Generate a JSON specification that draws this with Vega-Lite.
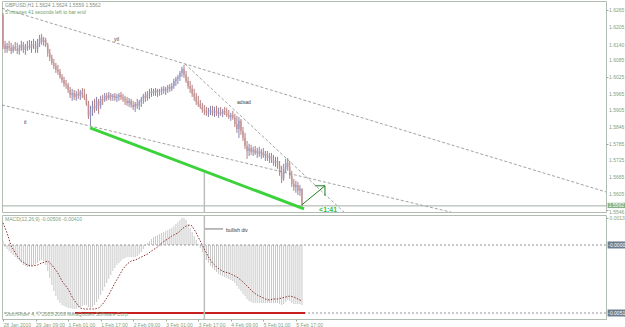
{
"$schema":"https://vega.github.io/schema/vega-lite/v6.json",
"padding":0,
"background":"#ffffff",
"spacing":3,
"bounds":"flush",
"resolve":{"scale":{"x":"independent","y":"independent"}},
"config":{"font":"Liberation Sans","view":{"stroke":"#b2bcb2","strokeWidth":1},"axis":{"labelFontSize":5,"labelColor":"#7f9f7f","tickColor":"#9aaa9a","tickSize":2,"labelPadding":1,"domain":false,"grid":false,"labelFont":"Liberation Sans","labelOverlap":false}},
"datasets":{
"ohlc":[
{"i":0,"o":1.6247,"h":1.6254,"l":1.6125,"c":1.6140},{"i":1,"o":1.6140,"h":1.6154,"l":1.6111,"c":1.6125},{"i":2,"o":1.6125,"h":1.6147,"l":1.6111,"c":1.6136},{"i":3,"o":1.6136,"h":1.6154,"l":1.6118,"c":1.6129},{"i":4,"o":1.6129,"h":1.6147,"l":1.6107,"c":1.6118},{"i":5,"o":1.6118,"h":1.6140,"l":1.6111,"c":1.6132},{"i":6,"o":1.6132,"h":1.6150,"l":1.6118,"c":1.6125},{"i":7,"o":1.6125,"h":1.6147,"l":1.6107,"c":1.6118},{"i":8,"o":1.6118,"h":1.6140,"l":1.6104,"c":1.6129},{"i":9,"o":1.6129,"h":1.6154,"l":1.6118,"c":1.6140},
{"i":10,"o":1.6140,"h":1.6150,"l":1.6111,"c":1.6122},{"i":11,"o":1.6122,"h":1.6143,"l":1.6104,"c":1.6132},{"i":12,"o":1.6132,"h":1.6154,"l":1.6118,"c":1.6136},{"i":13,"o":1.6136,"h":1.6157,"l":1.6122,"c":1.6129},{"i":14,"o":1.6129,"h":1.6154,"l":1.6111,"c":1.6143},{"i":15,"o":1.6143,"h":1.6161,"l":1.6125,"c":1.6136},{"i":16,"o":1.6136,"h":1.6154,"l":1.6111,"c":1.6125},{"i":17,"o":1.6125,"h":1.6161,"l":1.6111,"c":1.6147},{"i":18,"o":1.6147,"h":1.6175,"l":1.6132,"c":1.6165},{"i":19,"o":1.6165,"h":1.6179,"l":1.6140,"c":1.6150},
{"i":20,"o":1.6150,"h":1.6168,"l":1.6136,"c":1.6157},{"i":21,"o":1.6157,"h":1.6165,"l":1.6132,"c":1.6140},{"i":22,"o":1.6140,"h":1.6147,"l":1.6097,"c":1.6111},{"i":23,"o":1.6111,"h":1.6125,"l":1.6082,"c":1.6093},{"i":24,"o":1.6093,"h":1.6104,"l":1.6068,"c":1.6075},{"i":25,"o":1.6075,"h":1.6089,"l":1.6053,"c":1.6064},{"i":26,"o":1.6064,"h":1.6075,"l":1.6039,"c":1.6050},{"i":27,"o":1.6050,"h":1.6068,"l":1.6032,"c":1.6043},{"i":28,"o":1.6043,"h":1.6053,"l":1.6018,"c":1.6025},{"i":29,"o":1.6025,"h":1.6035,"l":1.6003,"c":1.6014},
{"i":30,"o":1.6014,"h":1.6025,"l":1.5989,"c":1.5999},{"i":31,"o":1.5999,"h":1.6014,"l":1.5982,"c":1.5996},{"i":32,"o":1.5996,"h":1.6003,"l":1.5967,"c":1.5978},{"i":33,"o":1.5978,"h":1.5989,"l":1.5949,"c":1.5960},{"i":34,"o":1.5960,"h":1.5982,"l":1.5939,"c":1.5967},{"i":35,"o":1.5967,"h":1.5978,"l":1.5942,"c":1.5953},{"i":36,"o":1.5953,"h":1.5974,"l":1.5939,"c":1.5964},{"i":37,"o":1.5964,"h":1.5982,"l":1.5946,"c":1.5957},{"i":38,"o":1.5957,"h":1.5978,"l":1.5942,"c":1.5971},{"i":39,"o":1.5971,"h":1.5985,"l":1.5949,"c":1.5960},
{"i":40,"o":1.5960,"h":1.5982,"l":1.5942,"c":1.5949},{"i":41,"o":1.5949,"h":1.5964,"l":1.5921,"c":1.5928},{"i":42,"o":1.5928,"h":1.5939,"l":1.5874,"c":1.5885},{"i":43,"o":1.5885,"h":1.5921,"l":1.5849,"c":1.5903},{"i":44,"o":1.5903,"h":1.5939,"l":1.5885,"c":1.5921},{"i":45,"o":1.5921,"h":1.5946,"l":1.5896,"c":1.5910},{"i":46,"o":1.5910,"h":1.5953,"l":1.5903,"c":1.5939},{"i":47,"o":1.5939,"h":1.5946,"l":1.5892,"c":1.5921},{"i":48,"o":1.5921,"h":1.5957,"l":1.5910,"c":1.5946},{"i":49,"o":1.5946,"h":1.5960,"l":1.5924,"c":1.5942},
{"i":50,"o":1.5942,"h":1.5967,"l":1.5935,"c":1.5957},{"i":51,"o":1.5957,"h":1.5967,"l":1.5939,"c":1.5949},{"i":52,"o":1.5949,"h":1.5971,"l":1.5942,"c":1.5960},{"i":53,"o":1.5960,"h":1.5967,"l":1.5939,"c":1.5953},{"i":54,"o":1.5953,"h":1.5964,"l":1.5939,"c":1.5957},{"i":55,"o":1.5957,"h":1.5967,"l":1.5939,"c":1.5949},{"i":56,"o":1.5949,"h":1.5964,"l":1.5935,"c":1.5953},{"i":57,"o":1.5953,"h":1.5967,"l":1.5939,"c":1.5960},{"i":58,"o":1.5960,"h":1.5971,"l":1.5942,"c":1.5953},{"i":59,"o":1.5953,"h":1.5964,"l":1.5935,"c":1.5946},
{"i":60,"o":1.5946,"h":1.5957,"l":1.5924,"c":1.5939},{"i":61,"o":1.5939,"h":1.5953,"l":1.5921,"c":1.5931},{"i":62,"o":1.5931,"h":1.5949,"l":1.5917,"c":1.5939},{"i":63,"o":1.5939,"h":1.5946,"l":1.5914,"c":1.5924},{"i":64,"o":1.5924,"h":1.5939,"l":1.5906,"c":1.5917},{"i":65,"o":1.5917,"h":1.5935,"l":1.5899,"c":1.5928},{"i":66,"o":1.5928,"h":1.5946,"l":1.5910,"c":1.5921},{"i":67,"o":1.5921,"h":1.5942,"l":1.5906,"c":1.5935},{"i":68,"o":1.5935,"h":1.5953,"l":1.5917,"c":1.5946},{"i":69,"o":1.5946,"h":1.5964,"l":1.5928,"c":1.5957},
{"i":70,"o":1.5957,"h":1.5971,"l":1.5935,"c":1.5949},{"i":71,"o":1.5949,"h":1.5974,"l":1.5939,"c":1.5964},{"i":72,"o":1.5964,"h":1.5982,"l":1.5946,"c":1.5967},{"i":73,"o":1.5967,"h":1.5985,"l":1.5953,"c":1.5974},{"i":74,"o":1.5974,"h":1.5982,"l":1.5957,"c":1.5967},{"i":75,"o":1.5967,"h":1.5985,"l":1.5957,"c":1.5978},{"i":76,"o":1.5978,"h":1.5982,"l":1.5953,"c":1.5971},{"i":77,"o":1.5971,"h":1.5982,"l":1.5957,"c":1.5974},{"i":78,"o":1.5974,"h":1.5989,"l":1.5960,"c":1.5982},{"i":79,"o":1.5982,"h":1.5992,"l":1.5964,"c":1.5974},
{"i":80,"o":1.5974,"h":1.5989,"l":1.5960,"c":1.5982},{"i":81,"o":1.5982,"h":1.5996,"l":1.5967,"c":1.5989},{"i":82,"o":1.5989,"h":1.5999,"l":1.5971,"c":1.5982},{"i":83,"o":1.5982,"h":1.6003,"l":1.5974,"c":1.5992},{"i":84,"o":1.5992,"h":1.6018,"l":1.5982,"c":1.6010},{"i":85,"o":1.6010,"h":1.6025,"l":1.5992,"c":1.6018},{"i":86,"o":1.6018,"h":1.6032,"l":1.5999,"c":1.6025},{"i":87,"o":1.6025,"h":1.6046,"l":1.6010,"c":1.6039},{"i":88,"o":1.6039,"h":1.6061,"l":1.6025,"c":1.6053},{"i":89,"o":1.6053,"h":1.6068,"l":1.6021,"c":1.6032},
{"i":90,"o":1.6032,"h":1.6046,"l":1.6003,"c":1.6010},{"i":91,"o":1.6010,"h":1.6025,"l":1.5982,"c":1.5992},{"i":92,"o":1.5992,"h":1.6010,"l":1.5967,"c":1.5982},{"i":93,"o":1.5982,"h":1.5996,"l":1.5953,"c":1.5964},{"i":94,"o":1.5964,"h":1.5982,"l":1.5939,"c":1.5953},{"i":95,"o":1.5953,"h":1.5967,"l":1.5924,"c":1.5935},{"i":96,"o":1.5935,"h":1.5957,"l":1.5917,"c":1.5928},{"i":97,"o":1.5928,"h":1.5942,"l":1.5910,"c":1.5917},{"i":98,"o":1.5917,"h":1.5931,"l":1.5896,"c":1.5906},{"i":99,"o":1.5906,"h":1.5924,"l":1.5888,"c":1.5903},
{"i":100,"o":1.5903,"h":1.5917,"l":1.5885,"c":1.5896},{"i":101,"o":1.5896,"h":1.5914,"l":1.5881,"c":1.5899},{"i":102,"o":1.5899,"h":1.5921,"l":1.5888,"c":1.5906},{"i":103,"o":1.5906,"h":1.5921,"l":1.5885,"c":1.5896},{"i":104,"o":1.5896,"h":1.5917,"l":1.5881,"c":1.5903},{"i":105,"o":1.5903,"h":1.5921,"l":1.5885,"c":1.5892},{"i":106,"o":1.5892,"h":1.5914,"l":1.5878,"c":1.5899},{"i":107,"o":1.5899,"h":1.5917,"l":1.5885,"c":1.5892},{"i":108,"o":1.5892,"h":1.5910,"l":1.5881,"c":1.5903},{"i":109,"o":1.5903,"h":1.5917,"l":1.5888,"c":1.5896},
{"i":110,"o":1.5896,"h":1.5914,"l":1.5881,"c":1.5888},{"i":111,"o":1.5888,"h":1.5906,"l":1.5874,"c":1.5881},{"i":112,"o":1.5881,"h":1.5896,"l":1.5867,"c":1.5888},{"i":113,"o":1.5888,"h":1.5903,"l":1.5871,"c":1.5878},{"i":114,"o":1.5878,"h":1.5892,"l":1.5845,"c":1.5856},{"i":115,"o":1.5856,"h":1.5885,"l":1.5824,"c":1.5838},{"i":116,"o":1.5838,"h":1.5881,"l":1.5806,"c":1.5867},{"i":117,"o":1.5867,"h":1.5874,"l":1.5817,"c":1.5831},{"i":118,"o":1.5831,"h":1.5845,"l":1.5795,"c":1.5806},{"i":119,"o":1.5806,"h":1.5824,"l":1.5766,"c":1.5777},
{"i":120,"o":1.5777,"h":1.5795,"l":1.5731,"c":1.5759},{"i":121,"o":1.5759,"h":1.5785,"l":1.5741,"c":1.5770},{"i":122,"o":1.5770,"h":1.5781,"l":1.5745,"c":1.5756},{"i":123,"o":1.5756,"h":1.5774,"l":1.5741,"c":1.5763},{"i":124,"o":1.5763,"h":1.5777,"l":1.5745,"c":1.5752},{"i":125,"o":1.5752,"h":1.5770,"l":1.5734,"c":1.5759},{"i":126,"o":1.5759,"h":1.5774,"l":1.5738,"c":1.5749},{"i":127,"o":1.5749,"h":1.5766,"l":1.5731,"c":1.5756},{"i":128,"o":1.5756,"h":1.5770,"l":1.5734,"c":1.5741},{"i":129,"o":1.5741,"h":1.5759,"l":1.5723,"c":1.5749},
{"i":130,"o":1.5749,"h":1.5759,"l":1.5723,"c":1.5734},{"i":131,"o":1.5734,"h":1.5752,"l":1.5716,"c":1.5741},{"i":132,"o":1.5741,"h":1.5752,"l":1.5716,"c":1.5727},{"i":133,"o":1.5727,"h":1.5745,"l":1.5706,"c":1.5716},{"i":134,"o":1.5716,"h":1.5738,"l":1.5702,"c":1.5723},{"i":135,"o":1.5723,"h":1.5738,"l":1.5695,"c":1.5706},{"i":136,"o":1.5706,"h":1.5723,"l":1.5670,"c":1.5681},{"i":137,"o":1.5681,"h":1.5706,"l":1.5644,"c":1.5659},{"i":138,"o":1.5659,"h":1.5713,"l":1.5652,"c":1.5695},{"i":139,"o":1.5695,"h":1.5731,"l":1.5681,"c":1.5716},
{"i":140,"o":1.5716,"h":1.5734,"l":1.5688,"c":1.5702},{"i":141,"o":1.5702,"h":1.5723,"l":1.5659,"c":1.5670},{"i":142,"o":1.5670,"h":1.5688,"l":1.5630,"c":1.5641},{"i":143,"o":1.5641,"h":1.5659,"l":1.5616,"c":1.5630},{"i":144,"o":1.5630,"h":1.5652,"l":1.5609,"c":1.5637},{"i":145,"o":1.5637,"h":1.5648,"l":1.5601,"c":1.5616},{"i":146,"o":1.5616,"h":1.5637,"l":1.5598,"c":1.5624},{"i":147,"o":1.5624,"h":1.5624,"l":1.5559,"c":1.5562}
],
"hist":[
{"i":0,"v":0.00019},{"i":1,"v":-0.00015},{"i":2,"v":-0.0003},{"i":3,"v":-0.00045},{"i":4,"v":-0.0006},{"i":5,"v":-0.00075},{"i":6,"v":-0.0009},{"i":7,"v":-0.00105},{"i":8,"v":-0.0012},{"i":9,"v":-0.00135},
{"i":10,"v":-0.0015},{"i":11,"v":-0.00158},{"i":12,"v":-0.00165},{"i":13,"v":-0.00165},{"i":14,"v":-0.00158},{"i":15,"v":-0.0015},{"i":16,"v":-0.00143},{"i":17,"v":-0.00135},{"i":18,"v":-0.0012},{"i":19,"v":-0.00113},
{"i":20,"v":-0.0012},{"i":21,"v":-0.0015},{"i":22,"v":-0.00195},{"i":23,"v":-0.00248},{"i":24,"v":-0.003},{"i":25,"v":-0.00345},{"i":26,"v":-0.00383},{"i":27,"v":-0.00413},{"i":28,"v":-0.00435},{"i":29,"v":-0.0045},
{"i":30,"v":-0.00458},{"i":31,"v":-0.00465},{"i":32,"v":-0.00473},{"i":33,"v":-0.00473},{"i":34,"v":-0.0048},{"i":35,"v":-0.0048},{"i":36,"v":-0.0048},{"i":37,"v":-0.00473},{"i":38,"v":-0.00465},{"i":39,"v":-0.00458},
{"i":40,"v":-0.0045},{"i":41,"v":-0.0045},{"i":42,"v":-0.00465},{"i":43,"v":-0.00473},{"i":44,"v":-0.00465},{"i":45,"v":-0.0045},{"i":46,"v":-0.00428},{"i":47,"v":-0.00405},{"i":48,"v":-0.00375},{"i":49,"v":-0.00345},
{"i":50,"v":-0.00315},{"i":51,"v":-0.00285},{"i":52,"v":-0.00255},{"i":53,"v":-0.00225},{"i":54,"v":-0.00195},{"i":55,"v":-0.00173},{"i":56,"v":-0.0015},{"i":57,"v":-0.00135},{"i":58,"v":-0.0012},{"i":59,"v":-0.00105},
{"i":60,"v":-0.00098},{"i":61,"v":-0.0009},{"i":62,"v":-0.0009},{"i":63,"v":-0.0009},{"i":64,"v":-0.0009},{"i":65,"v":-0.0009},{"i":66,"v":-0.00083},{"i":67,"v":-0.00068},{"i":68,"v":-0.00053},{"i":69,"v":-0.0003},
{"i":70,"v":-0.00008},{"i":71,"v":0.0001},{"i":72,"v":0.00019},{"i":73,"v":0.00029},{"i":74,"v":0.00038},{"i":75,"v":0.00043},{"i":76,"v":0.00048},{"i":77,"v":0.00053},{"i":78,"v":0.00058},{"i":79,"v":0.00062},
{"i":80,"v":0.00067},{"i":81,"v":0.00072},{"i":82,"v":0.00077},{"i":83,"v":0.00082},{"i":84,"v":0.00091},{"i":85,"v":0.00101},{"i":86,"v":0.0011},{"i":87,"v":0.0012},{"i":88,"v":0.0013},{"i":89,"v":0.0013},
{"i":90,"v":0.0012},{"i":91,"v":0.00101},{"i":92,"v":0.00082},{"i":93,"v":0.00062},{"i":94,"v":0.00043},{"i":95,"v":0.00024},{"i":96,"v":0.00005},{"i":97,"v":-0.00023},{"i":98,"v":-0.00053},{"i":99,"v":-0.00083},
{"i":100,"v":-0.00113},{"i":101,"v":-0.00135},{"i":102,"v":-0.00158},{"i":103,"v":-0.00173},{"i":104,"v":-0.00188},{"i":105,"v":-0.00203},{"i":106,"v":-0.00218},{"i":107,"v":-0.00225},{"i":108,"v":-0.00233},{"i":109,"v":-0.0024},
{"i":110,"v":-0.00248},{"i":111,"v":-0.00255},{"i":112,"v":-0.00263},{"i":113,"v":-0.0027},{"i":114,"v":-0.00285},{"i":115,"v":-0.00308},{"i":116,"v":-0.0033},{"i":117,"v":-0.00345},{"i":118,"v":-0.00368},{"i":119,"v":-0.00383},
{"i":120,"v":-0.00405},{"i":121,"v":-0.0042},{"i":122,"v":-0.00428},{"i":123,"v":-0.00435},{"i":124,"v":-0.00435},{"i":125,"v":-0.00435},{"i":126,"v":-0.00435},{"i":127,"v":-0.00435},{"i":128,"v":-0.00435},{"i":129,"v":-0.00435},
{"i":130,"v":-0.00435},{"i":131,"v":-0.00435},{"i":132,"v":-0.00435},{"i":133,"v":-0.00435},{"i":134,"v":-0.00435},{"i":135,"v":-0.00435},{"i":136,"v":-0.00443},{"i":137,"v":-0.0045},{"i":138,"v":-0.00443},{"i":139,"v":-0.00428},
{"i":140,"v":-0.00413},{"i":141,"v":-0.0042},{"i":142,"v":-0.00435},{"i":143,"v":-0.00443},{"i":144,"v":-0.00443},{"i":145,"v":-0.00443},{"i":146,"v":-0.00443},{"i":147,"v":-0.0045}
],
"sig":[
{"i":0,"v":0.00106},{"i":2,"v":0.00058},{"i":4,"v":-0.00008},{"i":7,"v":-0.00083},{"i":9,"v":-0.0012},{"i":12,"v":-0.0015},{"i":14,"v":-0.00158},{"i":17,"v":-0.0015},{"i":19,"v":-0.00135},{"i":22,"v":-0.0012},
{"i":24,"v":-0.0015},{"i":27,"v":-0.0021},{"i":29,"v":-0.0027},{"i":32,"v":-0.0033},{"i":34,"v":-0.0039},{"i":36,"v":-0.00435},{"i":38,"v":-0.00473},{"i":40,"v":-0.0048},{"i":43,"v":-0.0048},{"i":45,"v":-0.0048},
{"i":47,"v":-0.00473},{"i":49,"v":-0.00443},{"i":51,"v":-0.00398},{"i":53,"v":-0.00345},{"i":55,"v":-0.00285},{"i":57,"v":-0.00233},{"i":59,"v":-0.0018},{"i":61,"v":-0.00143},{"i":63,"v":-0.0012},{"i":65,"v":-0.00113},
{"i":67,"v":-0.00098},{"i":69,"v":-0.00083},{"i":71,"v":-0.00068},{"i":73,"v":-0.00045},{"i":76,"v":-0.00015},{"i":78,"v":0.0001},{"i":81,"v":0.00029},{"i":83,"v":0.00043},{"i":86,"v":0.00058},{"i":88,"v":0.00077},
{"i":90,"v":0.00091},{"i":92,"v":0.00096},{"i":93,"v":0.00091},{"i":95,"v":0.00058},{"i":97,"v":0.00019},{"i":99,"v":-0.0003},{"i":101,"v":-0.0009},{"i":103,"v":-0.00135},{"i":105,"v":-0.00165},{"i":107,"v":-0.00188},
{"i":109,"v":-0.00203},{"i":111,"v":-0.0021},{"i":113,"v":-0.00225},{"i":115,"v":-0.0024},{"i":117,"v":-0.00263},{"i":119,"v":-0.00293},{"i":121,"v":-0.00323},{"i":123,"v":-0.00353},{"i":125,"v":-0.00375},{"i":127,"v":-0.0039},
{"i":129,"v":-0.00405},{"i":131,"v":-0.00413},{"i":133,"v":-0.00405},{"i":135,"v":-0.00405},{"i":137,"v":-0.00398},{"i":139,"v":-0.0039},{"i":141,"v":-0.00383},{"i":143,"v":-0.0039},{"i":145,"v":-0.00405},{"i":147,"v":-0.0042}
],
"pticks":[{"p":1.6265},{"p":1.6205},{"p":1.614},{"p":1.6085},{"p":1.6025},{"p":1.5965},{"p":1.5905},{"p":1.5846},{"p":1.5785},{"p":1.5725},{"p":1.5665},{"p":1.5605}]
},
"vconcat":[
{
"width":604,"height":211,
"layer":[
{"data":{"name":"ohlc"},"mark":{"type":"rule","strokeWidth":1},
 "encoding":{
  "x":{"field":"i","type":"quantitative","scale":{"domain":[-0.5,296.5],"nice":false,"zero":false},"axis":null},
  "y":{"field":"l","type":"quantitative","scale":{"domain":[1.554,1.6297],"nice":false,"zero":false},"title":null,
       "axis":{"orient":"right","values":[1.6265,1.6205,1.614,1.6085,1.6025,1.5965,1.5905,1.5846,1.5785,1.5725,1.5665,1.5605,1.5546],"labels":false,"title":null}},
  "y2":{"field":"h"},
  "color":{"condition":{"test":"datum.c >= datum.o","value":"#8484b4"},"value":"#b47c7c"}}},
{"data":{"name":"ohlc"},"mark":{"type":"rule","strokeWidth":1.6,"opacity":0.8},
 "encoding":{
  "x":{"field":"i","type":"quantitative","scale":{"domain":[-0.5,296.5],"nice":false,"zero":false},"axis":null},
  "y":{"field":"o","type":"quantitative","scale":{"domain":[1.554,1.6297],"nice":false,"zero":false},"title":null},
  "y2":{"field":"c"},
  "color":{"condition":{"test":"datum.c >= datum.o","value":"#9a9ac4"},"value":"#c49292"}}},
{"data":{"values":[{"i":-0.5,"i2":296.5,"p":1.6271,"p2":1.5612},{"i":-0.5,"i2":225.7,"p":1.5924,"p2":1.553},{"i":89.5,"i2":169.1,"p":1.6071,"p2":1.553}]},
 "mark":{"type":"rule","strokeDash":[3,2],"color":"#8a8a8a","strokeWidth":0.8,"clip":true},
 "encoding":{
  "x":{"field":"i","type":"quantitative","scale":{"domain":[-0.5,296.5],"nice":false,"zero":false},"axis":null},
  "x2":{"field":"i2"},
  "y":{"field":"p","type":"quantitative","scale":{"domain":[1.554,1.6297],"nice":false,"zero":false},"title":null},
  "y2":{"field":"p2"}}},
{"data":{"values":[{"p":1.5562}]},"mark":{"type":"rule","color":"#a4aea4","strokeWidth":1},
 "encoding":{"y":{"field":"p","type":"quantitative","scale":{"domain":[1.554,1.6297],"nice":false,"zero":false},"title":null}}},
{"data":{"values":[{"i":99,"p":1.5681,"p2":1.554}]},"mark":{"type":"rule","color":"#bdbdbd","strokeWidth":1.5},
 "encoding":{
  "x":{"field":"i","type":"quantitative","scale":{"domain":[-0.5,296.5],"nice":false,"zero":false},"axis":null},
  "y":{"field":"p","type":"quantitative","scale":{"domain":[1.554,1.6297],"nice":false,"zero":false},"title":null},
  "y2":{"field":"p2"}}},
{"data":{"values":[{"i":42.8,"i2":148.0,"p":1.5842,"p2":1.5551}]},"mark":{"type":"rule","color":"#3cd23c","strokeWidth":3},
 "encoding":{
  "x":{"field":"i","type":"quantitative","scale":{"domain":[-0.5,296.5],"nice":false,"zero":false},"axis":null},
  "x2":{"field":"i2"},
  "y":{"field":"p","type":"quantitative","scale":{"domain":[1.554,1.6297],"nice":false,"zero":false},"title":null},
  "y2":{"field":"p2"}}},
{"data":{"values":[{"i":147.0,"i2":158.3,"p":1.5566,"p2":1.5634},{"i":153.4,"i2":158.3,"p":1.5634,"p2":1.5634},{"i":158.3,"i2":158.3,"p":1.5634,"p2":1.5598}]},
 "mark":{"type":"rule","color":"#1e7d1e","strokeWidth":1},
 "encoding":{
  "x":{"field":"i","type":"quantitative","scale":{"domain":[-0.5,296.5],"nice":false,"zero":false},"axis":null},
  "x2":{"field":"i2"},
  "y":{"field":"p","type":"quantitative","scale":{"domain":[1.554,1.6297],"nice":false,"zero":false},"title":null},
  "y2":{"field":"p2"}}},
{"data":{"values":[{"i":1.0,"p":1.6283,"t":"GBPUSD,H1  1.5624 1.5624 1.5559 1.5562"}]},
 "mark":{"type":"text","align":"left","baseline":"middle","fontSize":5,"color":"#7f8f7f"},
 "encoding":{
  "x":{"field":"i","type":"quantitative","scale":{"domain":[-0.5,296.5],"nice":false,"zero":false},"axis":null},
  "y":{"field":"p","type":"quantitative","scale":{"domain":[1.554,1.6297],"nice":false,"zero":false},"title":null},
  "text":{"field":"t"}}},
{"data":{"values":[{"i":1.0,"p":1.6256,"t":"5 minutes 41 seconds left to bar end"}]},
 "mark":{"type":"text","align":"left","baseline":"middle","fontSize":5,"color":"#6e9e6e"},
 "encoding":{
  "x":{"field":"i","type":"quantitative","scale":{"domain":[-0.5,296.5],"nice":false,"zero":false},"axis":null},
  "y":{"field":"p","type":"quantitative","scale":{"domain":[1.554,1.6297],"nice":false,"zero":false},"title":null},
  "text":{"field":"t"}}},
{"data":{"values":[{"i":54.6,"p":1.6161,"t":"ytl"},{"i":10.3,"p":1.5863,"t":"tl"},{"i":115.1,"p":1.5935,"t":"adsad"}]},
 "mark":{"type":"text","align":"left","baseline":"middle","fontSize":5,"color":"#3c3c3c"},
 "encoding":{
  "x":{"field":"i","type":"quantitative","scale":{"domain":[-0.5,296.5],"nice":false,"zero":false},"axis":null},
  "y":{"field":"p","type":"quantitative","scale":{"domain":[1.554,1.6297],"nice":false,"zero":false},"title":null},
  "text":{"field":"t"}}},
{"data":{"values":[{"i":155.4,"p":1.5548,"t":"<1:41"}]},
 "mark":{"type":"text","align":"left","baseline":"middle","fontSize":7,"fontWeight":"bold","color":"#38c038"},
 "encoding":{
  "x":{"field":"i","type":"quantitative","scale":{"domain":[-0.5,296.5],"nice":false,"zero":false},"axis":null},
  "y":{"field":"p","type":"quantitative","scale":{"domain":[1.554,1.6297],"nice":false,"zero":false},"title":null},
  "text":{"field":"t"}}},
{"data":{"name":"pticks"},
 "mark":{"type":"text","align":"left","baseline":"middle","fontSize":5,"color":"#7f9f7f","dx":3},
 "encoding":{
  "x":{"datum":296.5,"type":"quantitative","scale":{"domain":[-0.5,296.5],"nice":false,"zero":false},"axis":null},
  "y":{"field":"p","type":"quantitative","scale":{"domain":[1.554,1.6297],"nice":false,"zero":false},"title":null},
  "text":{"field":"p","format":".4f"}}},
{"data":{"values":[{"p":1.5546}]},
 "mark":{"type":"text","align":"left","baseline":"middle","fontSize":5,"color":"#7f9f7f","dx":3,"dy":1.2},
 "encoding":{
  "x":{"datum":296.5,"type":"quantitative","scale":{"domain":[-0.5,296.5],"nice":false,"zero":false},"axis":null},
  "y":{"field":"p","type":"quantitative","scale":{"domain":[1.554,1.6297],"nice":false,"zero":false},"title":null},
  "text":{"field":"p","format":".4f"}}},
{"data":{"values":[{"i":297.3,"i2":306.9,"p":1.5554,"p2":1.5573}]},
 "mark":{"type":"rect","color":"#86b086"},
 "encoding":{
  "x":{"field":"i","type":"quantitative","scale":{"domain":[-0.5,296.5],"nice":false,"zero":false},"axis":null},
  "x2":{"field":"i2"},
  "y":{"field":"p","type":"quantitative","scale":{"domain":[1.554,1.6297],"nice":false,"zero":false},"title":null},
  "y2":{"field":"p2"}}},
{"data":{"values":[{"i":297.8,"p":1.55635,"t":"1.5562"}]},
 "mark":{"type":"text","align":"left","baseline":"middle","fontSize":5,"color":"#ffffff"},
 "encoding":{
  "x":{"field":"i","type":"quantitative","scale":{"domain":[-0.5,296.5],"nice":false,"zero":false},"axis":null},
  "y":{"field":"p","type":"quantitative","scale":{"domain":[1.554,1.6297],"nice":false,"zero":false},"title":null},
  "text":{"field":"t"}}}
]
},
{
"width":604,"height":104,
"layer":[
{"data":{"name":"hist"},"mark":{"type":"rule","strokeWidth":1,"color":"#c8c8c8"},
 "encoding":{
  "x":{"field":"i","type":"quantitative","scale":{"domain":[-0.5,296.5],"nice":false,"zero":false},"title":null,
       "axis":{"orient":"bottom","values":[0,16,32,48,64,80,96,112,128,144],"labelExpr":"['28 Jan 2010','29 Jan 09:00','1 Feb 01:00','1 Feb 17:00','2 Feb 09:00','3 Feb 01:00','3 Feb 17:00','4 Feb 09:00','5 Feb 01:00','5 Feb 17:00'][round(datum.value/16)]","labelAlign":"left","labelFlush":false,"labelOverlap":false,"title":null}},
  "y":{"field":"v","type":"quantitative","scale":{"domain":[-0.00555,0,0.00144],"range":[104,30,0],"nice":false,"zero":false},"title":null,
       "axis":{"orient":"right","values":[0.0013],"format":".4f","title":null,"labelBaseline":"middle","labelOverlap":false}},
  "y2":{"datum":0}}},
{"data":{"values":[{"v":0},{"v":-0.0051}]},"mark":{"type":"rule","strokeDash":[2,2],"color":"#7c7c7c","strokeWidth":0.8},
 "encoding":{"y":{"field":"v","type":"quantitative","scale":{"domain":[-0.00555,0,0.00144],"range":[104,30,0],"nice":false,"zero":false},"title":null}}},
{"data":{"values":[{"i":35.4,"i2":148.5,"v":-0.0051}]},"mark":{"type":"rule","color":"#c81e1e","strokeWidth":2},
 "encoding":{
  "x":{"field":"i","type":"quantitative","scale":{"domain":[-0.5,296.5],"nice":false,"zero":false},"title":null},
  "x2":{"field":"i2"},
  "y":{"field":"v","type":"quantitative","scale":{"domain":[-0.00555,0,0.00144],"range":[104,30,0],"nice":false,"zero":false},"title":null}}},
{"data":{"values":[{"i":99}]},"mark":{"type":"rule","color":"#bdbdbd","strokeWidth":1.5},
 "encoding":{"x":{"field":"i","type":"quantitative","scale":{"domain":[-0.5,296.5],"nice":false,"zero":false},"title":null}}},
{"data":{"name":"sig"},"mark":{"type":"line","strokeDash":[1.5,1.5],"color":"#8c3636","strokeWidth":1},
 "encoding":{
  "x":{"field":"i","type":"quantitative","scale":{"domain":[-0.5,296.5],"nice":false,"zero":false},"title":null},
  "y":{"field":"v","type":"quantitative","scale":{"domain":[-0.00555,0,0.00144],"range":[104,30,0],"nice":false,"zero":false},"title":null}}},
{"data":{"values":[{"i":99.3,"i2":108.2,"v":0.00077}]},"mark":{"type":"rule","color":"#555555","strokeWidth":0.8},
 "encoding":{
  "x":{"field":"i","type":"quantitative","scale":{"domain":[-0.5,296.5],"nice":false,"zero":false},"title":null},
  "x2":{"field":"i2"},
  "y":{"field":"v","type":"quantitative","scale":{"domain":[-0.00555,0,0.00144],"range":[104,30,0],"nice":false,"zero":false},"title":null}}},
{"data":{"values":[{"i":109.6,"v":0.00072,"t":"bullish div"}]},
 "mark":{"type":"text","align":"left","baseline":"middle","fontSize":5,"color":"#3c3c3c"},
 "encoding":{
  "x":{"field":"i","type":"quantitative","scale":{"domain":[-0.5,296.5],"nice":false,"zero":false},"title":null},
  "y":{"field":"v","type":"quantitative","scale":{"domain":[-0.00555,0,0.00144],"range":[104,30,0],"nice":false,"zero":false},"title":null},
  "text":{"field":"t"}}},
{"data":{"values":[{"i":1.0,"v":0.00125,"t":"MACD(12,26,9) -0.00506 -0.00410"},{"i":1.0,"v":-0.0052,"t":"StochRider 4, © 2005-2009 MetaQuotes Software Corp."}]},
 "mark":{"type":"text","align":"left","baseline":"middle","fontSize":5,"color":"#7f9f7f"},
 "encoding":{
  "x":{"field":"i","type":"quantitative","scale":{"domain":[-0.5,296.5],"nice":false,"zero":false},"title":null},
  "y":{"field":"v","type":"quantitative","scale":{"domain":[-0.00555,0,0.00144],"range":[104,30,0],"nice":false,"zero":false},"title":null},
  "text":{"field":"t"}}},
{"data":{"values":[{"i":297.3,"i2":306.9,"v":-0.00026,"v2":0.00017},{"i":297.3,"i2":306.9,"v":-0.00536,"v2":-0.00484}]},
 "mark":{"type":"rect","color":"#6c7c8c"},
 "encoding":{
  "x":{"field":"i","type":"quantitative","scale":{"domain":[-0.5,296.5],"nice":false,"zero":false},"title":null},
  "x2":{"field":"i2"},
  "y":{"field":"v","type":"quantitative","scale":{"domain":[-0.00555,0,0.00144],"range":[104,30,0],"nice":false,"zero":false},"title":null},
  "y2":{"field":"v2"}}},
{"data":{"values":[{"i":297.6,"v":0,"t":"-0.0000"},{"i":297.6,"v":-0.0051,"t":"-0.0051"}]},
 "mark":{"type":"text","align":"left","baseline":"middle","fontSize":5,"color":"#ffffff"},
 "encoding":{
  "x":{"field":"i","type":"quantitative","scale":{"domain":[-0.5,296.5],"nice":false,"zero":false},"title":null},
  "y":{"field":"v","type":"quantitative","scale":{"domain":[-0.00555,0,0.00144],"range":[104,30,0],"nice":false,"zero":false},"title":null},
  "text":{"field":"t"}}}
]
}
]
}
